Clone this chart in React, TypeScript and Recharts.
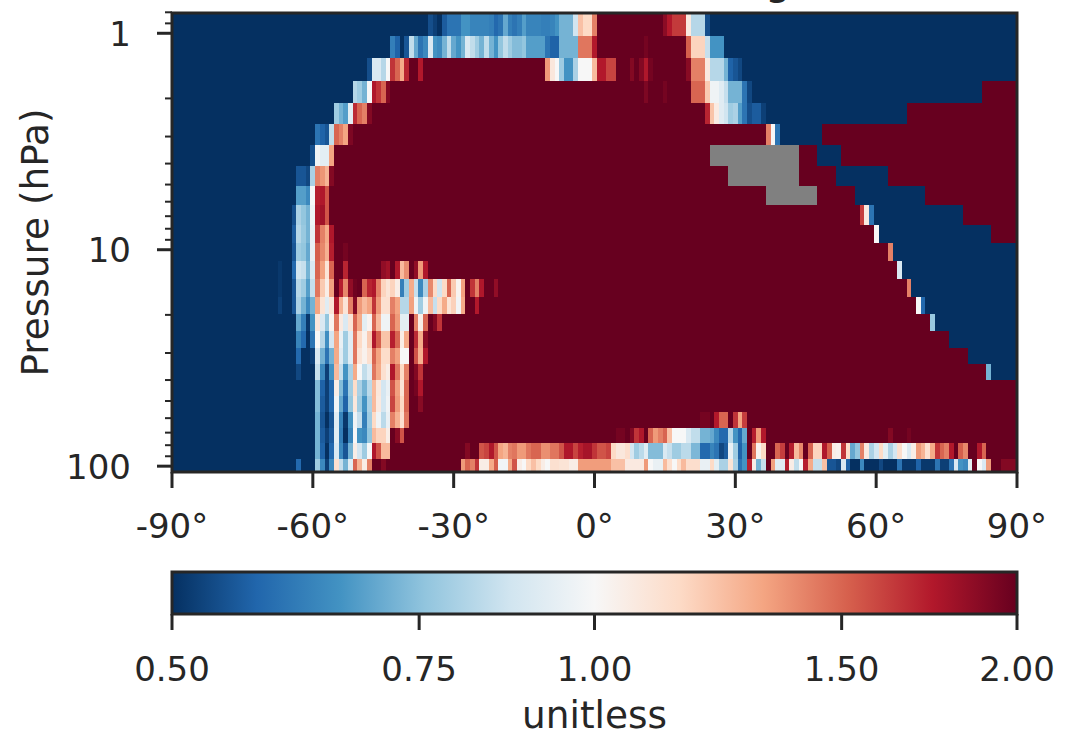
import React from 'react';
import { ScatterChart, Scatter, XAxis, YAxis, ReferenceArea, Label } from 'recharts';

// Pressure edges of the 25 rows, hPa, top to bottom
const pressureEdges = [0.806, 1.029, 1.30, 1.661, 2.10, 2.62, 3.28, 4.10, 5.07, 6.21, 7.68, 9.30, 11.27, 13.65, 16.5, 19.8, 23.7, 28.4, 33.7, 40.0, 47.4, 56.2, 66.6, 78.1, 92.6, 106.4];
const yMinor = [0.8, 0.9, 2, 3, 4, 5, 6, 7, 8, 9, 20, 30, 40, 50, 60, 70, 80, 90];
const yMajor = [1, 10, 100];
const latTicks = [-90, -60, -30, 0, 30, 60, 90];
const cbarTicks = [0.5, 0.75, 1, 1.5, 2];
const rdbu = ['#053061', '#2166ac', '#4393c3', '#92c5de', '#d1e5f0', '#f7f7f7', '#fddbc7', '#f4a582', '#d6604d', '#b2182b', '#67001f'];

// Each row: flat pairs of start latitude, ratio from that latitude on (null = no data)
const row00 = [-90,.5,-35.5,.54,-34.5,.52,-33.5,.5,-32.5,.56,-31.5,.6,-28.5,.66,-26.5,.63,-22.5,.62,-21.5,.58,-20.5,.6,-19.5,.7,-18.5,.62,-17.5,.6,-16.5,.62,-15.5,.68,-14.5,.63,-11.5,.62,-9.5,.63,-8.5,.66,-7.5,.72,-4.5,.87,-3.5,1.23,-2.5,1.15,-0.5,1.42,0.5,2,14.5,1.87,15.5,1.74,16.5,1.63,19.5,1.07,20.5,.82,23.5,.54,24.5,.5];
const row01 = [-90,.5,-43.5,.62,-42.5,.57,-41.5,.5,-40.5,.55,-39.5,.84,-38.5,.7,-37.5,.6,-36.5,.64,-35.5,.9,-34.5,.66,-33.5,.64,-32.5,.72,-31.5,.84,-30.5,.7,-29.5,.66,-28.5,.72,-27.5,.9,-26.5,.84,-25.5,.78,-24.5,.72,-23.5,.84,-22.5,.72,-21.5,.66,-20.5,.76,-19.5,.84,-18.5,.78,-17.5,.74,-15.5,.76,-14.5,.68,-10.5,.6,-9.5,.57,-7.5,.72,-3.5,1.45,-0.5,1.74,0.5,2,10.5,1.95,11.5,2,19.5,1.52,20.5,1.17,23.5,.85,24.5,.66,27.5,.5];
const row02 = [-90,.5,-48.5,.54,-47.5,.9,-45.5,.82,-44.5,1,-43.5,1.65,-42.5,1.5,-41.5,1.3,-40.5,1.7,-39.5,2,-37.5,1.74,-36.5,2,-10.5,1.35,-9.5,1.08,-8.5,1,-7.5,.78,-6.5,.66,-4.5,.8,-3.5,1,-0.5,1.25,0.5,1.74,2.5,1.6,4.5,2,7.5,1.9,8.5,2,9.5,1.9,10.5,1.75,11.5,1.95,12.5,2,19.5,1.88,20.5,1.42,23.5,1.07,24.5,.82,27.5,.72,28.5,.57,29.5,.55,30.5,.53,31.5,.5];
const row03 = [-90,.5,-51.5,.82,-50.5,.78,-49.5,.72,-48.5,1,-47.5,1.75,-46.5,1.65,-45.5,1.5,-44.5,1.9,-43.5,2,10.5,1.92,11.5,2,14.5,1.95,15.5,2,20.5,1.5,23.5,1.2,24.5,.97,26.5,.92,27.5,.85,28.5,.72,31.5,.6,32.5,.53,33.5,.5,82.5,2];
const row04 = [-90,.5,-55.5,.78,-54.5,.72,-53.5,.68,-52.5,.93,-51.5,1.68,-50.5,1.5,-49.5,1.42,-48.5,1.9,-47.5,2,23.5,1.7,24.5,1.22,25.5,1.06,26.5,.92,27.5,.87,28.5,.78,29.5,.8,30.5,.68,31.5,.6,32.5,.54,33.5,.56,35.5,.52,36.5,.5,66.5,2];
const row05 = [-90,.5,-59.5,.6,-58.5,.57,-57.5,.55,-56.5,.84,-55.5,1.5,-54.5,1.42,-53.5,1.32,-52.5,1.92,-51.5,2,36.5,1.42,37.5,1,38.5,.6,39.5,.5,48.5,2];
const row06 = [-90,.5,-60.5,.54,-59.5,.98,-58.5,.93,-56.5,1.32,-55.5,2,24.5,null,43.5,2,47.5,.5,52.5,2];
const row07 = [-90,.5,-63.5,.55,-61.5,.53,-60.5,.8,-59.5,1.42,-58.5,1.36,-57.5,1.27,-56.5,1.9,-55.5,2,28.5,null,43.5,2,51.5,.5,62.5,2];
const row08 = [-90,.5,-63.5,.68,-61.5,.64,-60.5,1,-59.5,1.72,-58.5,1.75,-57.5,1.55,-56.5,2,36.5,null,47.5,2,55.5,.5,70.5,2];
const row09 = [-90,.5,-64.5,.54,-63.5,.8,-62.5,.76,-61.5,.72,-60.5,.97,-59.5,1.75,-58.5,1.8,-57.5,1.55,-56.5,2,56.5,1.62,57.5,1.07,58.5,.6,59.5,.5,78.5,2];
const row10 = [-90,.5,-64.5,.56,-63.5,.82,-62.5,.77,-61.5,.72,-60.5,.95,-59.5,1.65,-58.5,1.42,-57.5,1.3,-56.5,1.75,-55.5,2,59.5,1,60.5,.5,84.5,2];
const row11 = [-90,.5,-64.5,.55,-63.5,.78,-62.5,.76,-61.5,.7,-60.5,.95,-59.5,1.52,-58.5,1.4,-57.5,1.28,-56.5,1.72,-55.5,2,-53.5,1.95,-52.5,2,62.5,1.42,63.5,.5];
const row12 = [-90,.5,-67.5,.51,-66.5,.5,-64.5,.58,-63.5,.87,-62.5,.85,-61.5,.72,-60.5,.9,-59.5,1.5,-58.5,1.33,-57.5,1.1,-56.5,1.5,-55.5,2,-53.5,1.7,-52.5,2,-45.5,1.85,-44.5,1.8,-43.5,2,-42.5,1.75,-41.5,1.25,-40.5,1.38,-39.5,2,-38.5,1.85,-37.5,1.35,-36.5,1.75,-35.5,2,64.5,.9,65.5,.5];
const row13 = [-90,.5,-67.5,.51,-66.5,.5,-64.5,.55,-63.5,.82,-62.5,.78,-61.5,.68,-60.5,.85,-59.5,1.45,-58.5,1.2,-57.5,1.05,-56.5,1.33,-55.5,2,-54.5,1.72,-53.5,1.4,-52.5,1.85,-51.5,1.97,-50.5,2,-49.5,1.5,-48.5,1.7,-47.5,1.75,-46.5,1.42,-45.5,1.17,-44.5,1.1,-43.5,1.17,-42.5,1.05,-41.5,.62,-40.5,.78,-39.5,1.3,-38.5,.85,-37.5,.64,-36.5,.8,-35.5,1.4,-34.5,1.15,-33.5,.87,-32.5,1.15,-31.5,1.5,-30.5,1.2,-29.5,1.02,-28.5,1.33,-27.5,2,-26.5,1.65,-25.5,1.42,-24.5,1.75,-23.5,2,-21.5,1.85,-20.5,2,66.5,1.42,67.5,.5];
const row14 = [-90,.5,-67.5,.52,-66.5,.5,-64.5,.55,-63.5,.8,-62.5,.72,-61.5,.64,-60.5,.72,-59.5,1.32,-58.5,1.1,-57.5,.92,-56.5,1.1,-55.5,1.75,-54.5,1.28,-53.5,1.1,-52.5,1.42,-51.5,1.9,-50.5,1.35,-49.5,1.25,-48.5,1.32,-47.5,1.65,-46.5,1.35,-45.5,1.12,-43.5,1.42,-42.5,1.32,-41.5,.82,-39.5,1.33,-38.5,.97,-37.5,.78,-36.5,.97,-35.5,1.25,-34.5,.85,-33.5,1.15,-32.5,1.3,-31.5,1.1,-30.5,1.18,-29.5,.98,-28.5,1.3,-27.5,2,-25.5,1.74,-24.5,2,68.5,1,69.5,.58,70.5,.5];
const row15 = [-90,.5,-63.5,.7,-62.5,.62,-61.5,.51,-60.5,.66,-59.5,1.08,-58.5,.9,-57.5,.76,-56.5,1.02,-55.5,1.45,-54.5,1.07,-53.5,.9,-52.5,1.1,-51.5,1.5,-50.5,1.3,-49.5,.93,-48.5,1.02,-47.5,1.5,-46.5,1.25,-45.5,.97,-43.5,1.5,-42.5,1.35,-41.5,.93,-39.5,2,-38.5,1.42,-37.5,1.05,-36.5,1.5,-35.5,2,-34.5,1.9,-33.5,1.65,-32.5,2,71.5,.77,72.5,.5];
const row16 = [-90,.5,-63.5,.63,-62.5,.58,-61.5,.5,-60.5,.6,-59.5,1,-58.5,.82,-57.5,.65,-56.5,.88,-55.5,1.32,-54.5,.95,-53.5,.78,-52.5,.92,-51.5,1.45,-50.5,1.15,-49.5,1.03,-48.5,1.2,-47.5,1.75,-46.5,1.52,-45.5,1.22,-43.5,1.72,-42.5,1.5,-41.5,1.05,-40.5,1.3,-39.5,2,-38.5,1.68,-37.5,1.3,-36.5,1.88,-35.5,2,75.5,.5];
const row17 = [-90,.5,-63.5,.58,-62.5,.5,-60.5,.52,-59.5,.9,-58.5,.72,-57.5,.6,-56.5,.72,-55.5,1.3,-54.5,.92,-53.5,.78,-52.5,.92,-51.5,1.45,-50.5,1.1,-49.5,1.03,-48.5,1.12,-47.5,1.5,-46.5,1.32,-45.5,1.14,-43.5,1.42,-42.5,1.33,-41.5,1,-39.5,2,-38.5,1.55,-37.5,1.28,-36.5,1.75,-35.5,2,79.5,.5];
const row18 = [-90,.5,-63.5,.53,-62.5,.5,-59.5,.85,-58.5,.64,-57.5,.52,-56.5,.66,-55.5,1.25,-54.5,.85,-53.5,.66,-52.5,.8,-51.5,1.3,-50.5,1,-49.5,.84,-48.5,.92,-47.5,1.45,-46.5,1.3,-45.5,1.12,-44.5,1.05,-43.5,1.75,-42.5,1.45,-41.5,1.15,-40.5,1.42,-39.5,2,-38.5,1.9,-37.5,1.65,-36.5,2,83.5,.72,84.5,.5];
const row19 = [-90,.5,-59.5,.74,-58.5,.57,-57.5,.52,-56.5,.58,-55.5,1.05,-54.5,.74,-53.5,.6,-52.5,.78,-51.5,1.14,-50.5,.8,-49.5,.72,-48.5,.83,-47.5,1.25,-46.5,1.08,-45.5,.88,-44.5,.95,-43.5,1.55,-42.5,1.33,-41.5,1.1,-40.5,1.5,-39.5,2,-38.5,1.95,-37.5,1.75,-36.5,2];
const row20 = [-90,.5,-59.5,.74,-58.5,.56,-57.5,.52,-56.5,.58,-55.5,.98,-54.5,.7,-53.5,.57,-52.5,.76,-51.5,1.08,-50.5,.78,-49.5,.66,-48.5,.8,-47.5,1.25,-46.5,1.07,-45.5,.88,-44.5,.97,-43.5,1.6,-42.5,1.35,-41.5,1.15,-40.5,1.5,-39.5,2,-37.5,1.88,-36.5,2];
const row21 = [-90,.5,-59.5,.72,-58.5,.55,-57.5,.5,-56.5,.55,-55.5,.92,-54.5,.63,-53.5,.51,-52.5,.66,-51.5,.97,-50.5,.85,-49.5,.62,-48.5,.78,-47.5,1.15,-46.5,.97,-45.5,.83,-44.5,.95,-43.5,1.42,-42.5,1.28,-41.5,1.12,-40.5,1.45,-39.5,2,22.5,1.95,24.5,2,25.5,1.74,26.5,1.5,28.5,2,29.5,1.65,30.5,1.32,31.5,1.62,32.5,2];
const row22 = [-90,.5,-59.5,.72,-58.5,.56,-57.5,.52,-56.5,.56,-55.5,.93,-54.5,.62,-53.5,.5,-52.5,.63,-51.5,1,-50.5,.66,-49.5,.64,-48.5,.76,-47.5,1.25,-46.5,1.17,-44.5,1.05,-43.5,2,-42.5,1.88,-41.5,1.55,-40.5,2,4.5,1.95,6.5,2,7.5,1.9,8.5,1.65,9.5,1.75,10.5,2,11.5,1.5,12.5,1.35,13.5,1.42,14.5,1.5,15.5,1.23,16.5,1,19.5,.9,20.5,.84,22.5,.72,24.5,.7,25.5,.64,26.5,.58,28.5,.82,29.5,.66,30.5,.58,31.5,.7,32.5,2,33.5,1.72,34.5,1.35,35.5,1.74,36.5,2,62.5,1.9,63.5,2,66.5,1.95,67.5,2];
const row23 = [-90,.5,-59.5,.72,-58.5,.57,-57.5,.5,-56.5,.58,-55.5,.9,-54.5,.64,-53.5,.55,-52.5,.72,-51.5,1.05,-50.5,.88,-49.5,.78,-48.5,1,-47.5,1.75,-46.5,1.55,-45.5,1.25,-43.5,2,-27.5,1.9,-26.5,2,-24.5,1.55,-23.5,1.6,-22.5,1.75,-21.5,1.55,-20.5,1.32,-19.5,1.27,-18.5,1.42,-17.5,1.45,-16.5,1.35,-14.5,1.45,-13.5,1.5,-11.5,1.38,-9.5,1.45,-7.5,1.55,-6.5,1.75,-4.5,1.6,-3.5,1.72,-2.5,1.78,-0.5,1.65,0.5,1.55,2.5,1.6,3.5,1.15,4.5,1.08,6.5,1.13,7.5,.88,8.5,.78,9.5,.83,10.5,.92,11.5,.74,14.5,.9,15.5,.85,16.5,.78,18.5,.83,20.5,.73,22.5,.58,24.5,.63,25.5,.6,26.5,.53,27.5,.56,28.5,.95,29.5,.78,30.5,.57,31.5,.66,32.5,2,33.5,1.45,34.5,1.02,35.5,1.15,36.5,2,38.5,1.5,39.5,1.62,40.5,2,41.5,1.72,42.5,1.25,43.5,1.4,44.5,2,45.5,1.5,46.5,1.17,48.5,1.75,49.5,1.52,50.5,1.05,51.5,1.03,52.5,1.65,53.5,1.14,54.5,.7,55.5,.76,56.5,1.42,57.5,1.07,58.5,.8,59.5,.88,60.5,1.15,61.5,.93,62.5,.8,63.5,.88,64.5,1.13,65.5,1,66.5,.9,67.5,1.05,68.5,1.35,69.5,1.27,70.5,1.12,71.5,1.3,72.5,1.65,73.5,1.5,74.5,1.42,75.5,1.74,76.5,2,77.5,1.52,78.5,1.4,79.5,2,81.5,1.75,82.5,1.5,83.5,2];
const row24 = [-90,.5,-63.5,.58,-62.5,.5,-59.5,.78,-58.5,.64,-57.5,.52,-56.5,.64,-55.5,1.12,-54.5,.85,-53.5,.72,-52.5,.92,-51.5,1.5,-50.5,1.27,-49.5,1.05,-48.5,1.42,-47.5,2,-45.5,1.9,-44.5,2,-28.5,1.35,-27.5,1.5,-26.5,1.42,-25.5,1.65,-24.5,1.05,-22.5,1.3,-21.5,1.52,-20.5,.98,-18.5,1.3,-17.5,1.55,-16.5,1.05,-15.5,1,-14.5,1.15,-13.5,1.23,-12.5,1.15,-11.5,1.05,-10.5,1,-9.5,1.12,-7.5,1.1,-5.5,1.05,-3.5,1.34,3.5,1.23,6.5,1.07,10.5,1.35,11.5,1,12.5,.95,14.5,1.25,15.5,1.12,16.5,1,17.5,1.14,18.5,1.25,19.5,1.13,22.5,.95,24.5,1.15,25.5,.93,26.5,.8,28.5,1.1,29.5,.8,30.5,.6,31.5,.66,32.5,1.72,33.5,1.05,34.5,.72,35.5,.85,36.5,2,37.5,1.33,38.5,.92,40.5,1.72,41.5,1.05,42.5,.84,43.5,1,44.5,1.72,45.5,1.3,46.5,.85,48.5,1.23,49.5,.55,50.5,.55,51.5,.53,52.5,.9,53.5,.57,54.5,.5,56.5,.64,57.5,.5,60.5,.53,61.5,.5,64.5,.6,65.5,.51,68.5,.57,69.5,.51,72.5,.6,73.5,.52,75.5,.6,76.5,.9,77.5,.66,78.5,.64,79.5,.93,80.5,2,81.5,1,82.5,.9,83.5,1.35,84.5,2,86.5,1.9];
const rows = [row00,row01,row02,row03,row04,row05,row06,row07,row08,row09,row10,row11,row12,row13,row14,row15,row16,row17,row18,row19,row20,row21,row22,row23,row24];

const INK = '#262626';
const FONT = '"DejaVu Sans", sans-serif';
const TICK_SIZE = 34;
const LABEL_SIZE = 37.4;

function colorOf(v: number | null): string {
  if (v === null) return '#808080';
  const t = Math.max(0, Math.min(1, (Math.log2(v) + 1) / 2)) * 10;
  const i = Math.min(9, Math.floor(t));
  const f = t - i;
  const a = rdbu[i], b = rdbu[i + 1];
  const c = [1, 3, 5].map((k) => Math.round(parseInt(a.slice(k, k + 2), 16) * (1 - f) + parseInt(b.slice(k, k + 2), 16) * f));
  return `rgb(${c[0]},${c[1]},${c[2]})`;
}

type Cell = { x1: number; x2: number; y1: number; y2: number; v: number | null };
const cells: Cell[] = [];
rows.forEach((row, r) => {
  for (let i = 0; i < row.length; i += 2) {
    const end = i + 2 < row.length ? (row[i + 2] as number) : 90;
    cells.push({ x1: row[i] as number, x2: end, y1: pressureEdges[r], y2: pressureEdges[r + 1], v: row[i + 1] as number | null });
  }
});

const YTick = (p: any) => {
  const major = yMajor.includes(p.payload.value);
  return (
    <g>
      <line x1={p.x} x2={p.x - (major ? 15 : 7)} y1={p.y} y2={p.y} stroke={INK} strokeWidth={major ? 3 : 2} />
      {major && (
        <text x={p.x - 41} y={p.y + 12.5} textAnchor="end" fontSize={TICK_SIZE} fontFamily={FONT} fill={INK}>{p.payload.value}</text>
      )}
    </g>
  );
};

const LatTick = (p: any) => (
  <g>
    <line x1={p.x} x2={p.x} y1={472} y2={488} stroke={INK} strokeWidth={3} />
    <text x={p.x} y={538} textAnchor="middle" fontSize={TICK_SIZE} fontFamily={FONT} fill={INK}>{`${p.payload.value}°`}</text>
  </g>
);

const CbarTick = (p: any) => (
  <g>
    <line x1={p.x} x2={p.x} y1={614} y2={630} stroke={INK} strokeWidth={3} />
    <text x={p.x} y={681} textAnchor="middle" fontSize={TICK_SIZE} fontFamily={FONT} fill={INK}>{p.payload.value.toFixed(2)}</text>
  </g>
);

const abs: React.CSSProperties = { position: 'absolute', left: 0, top: 0 };

export default function App() {
  return (
    <div style={{ position: 'absolute', left: 0, top: 0, width: 1082, height: 732, background: '#fff', overflow: 'hidden' }}>
      <div style={abs}>
        <ScatterChart width={1082} height={732} margin={{ left: 0, right: 65, top: 13, bottom: 0 }}>
          <XAxis dataKey="x" type="number" domain={[-90, 90]} ticks={latTicks} height={260} axisLine={false} tickLine={false} tick={LatTick} interval={0} allowDataOverflow />
          <YAxis dataKey="y" type="number" scale="log" domain={[0.806, 106.4]} reversed ticks={[...yMinor, ...yMajor]} width={172} axisLine={false} tickLine={false} tickSize={0} tickMargin={0} tick={YTick} interval={0} allowDataOverflow>
            <Label value="Pressure (hPa)" angle={-90} position="insideLeft" offset={35} style={{ textAnchor: 'middle', fontSize: LABEL_SIZE, fontFamily: FONT, fill: INK }} />
          </YAxis>
          <Scatter data={[]} isAnimationActive={false} />
          {cells.map((c, i) => (
            <ReferenceArea key={i} x1={c.x1} x2={c.x2} y1={c.y1} y2={c.y2} fill={colorOf(c.v)} fillOpacity={1} stroke="none" strokeWidth={0} shapeRendering="crispEdges" ifOverflow="visible" />
          ))}
          <ReferenceArea x1={-90} x2={90} y1={0.806} y2={106.4} fill="none" fillOpacity={0} stroke={INK} strokeWidth={3} ifOverflow="visible" />
          <text x={541} y={-6} textAnchor="middle" fontSize={40.8} fontFamily={FONT} fill={INK}>,</text>
          <text x={778} y={-6} textAnchor="middle" fontSize={40.8} fontFamily={FONT} fill={INK}>g</text>
        </ScatterChart>
      </div>
      <div style={abs}>
        <ScatterChart width={1082} height={732} margin={{ left: 172, right: 65, top: 572, bottom: 0 }}>
          <defs>
            <linearGradient id="cbar" x1="0" y1="0" x2="1" y2="0">
              {rdbu.map((c, i) => <stop key={c} offset={`${i * 10}%`} stopColor={c} />)}
            </linearGradient>
          </defs>
          <XAxis dataKey="x" type="number" scale="log" domain={[0.5, 2]} ticks={cbarTicks} height={118} axisLine={false} tickLine={false} tick={CbarTick} interval={0} allowDataOverflow>
            <Label value="unitless" position="insideBottom" offset={4} style={{ textAnchor: 'middle', fontSize: LABEL_SIZE, fontFamily: FONT, fill: INK }} />
          </XAxis>
          <YAxis dataKey="y" type="number" domain={[0, 1]} width={0} tick={false} axisLine={false} tickLine={false} allowDataOverflow />
          <Scatter data={[]} isAnimationActive={false} />
          <ReferenceArea x1={0.5} x2={2} y1={0} y2={1} fill="url(#cbar)" fillOpacity={1} stroke={INK} strokeWidth={3} ifOverflow="visible" />
        </ScatterChart>
      </div>
    </div>
  );
}
